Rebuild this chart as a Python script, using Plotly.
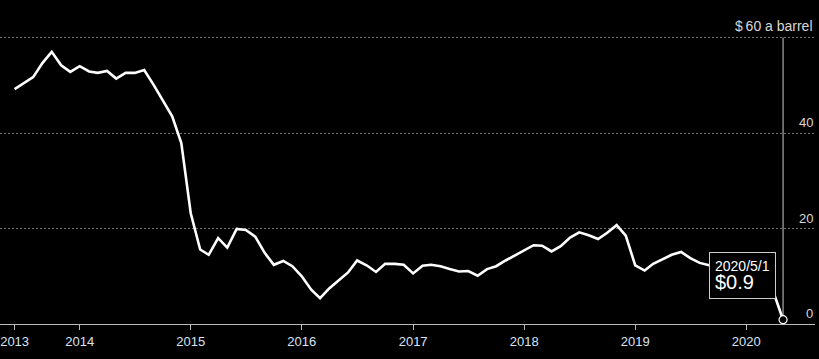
import pandas as pd
import plotly.graph_objects as go

months = pd.date_range("2013-06-01", "2020-05-01", freq="MS")
prices = [
    49.2, 50.5, 51.7, 54.7, 57.0, 54.2, 52.8,
    54.0, 52.9, 52.6, 53.0, 51.4, 52.6, 52.6, 53.2, 50.1, 47.0, 43.5, 37.9,
    23.2, 15.6, 14.5, 18.0, 16.0, 19.9, 19.7, 18.3, 14.9, 12.4, 13.2, 12.1,
    10.0, 7.2, 5.4, 7.5, 9.1, 10.8, 13.3, 12.3, 10.9, 12.6, 12.6, 12.4,
    10.6, 12.2, 12.4, 12.1, 11.5, 11.0, 11.1, 10.1, 11.5, 12.1, 13.3, 14.4,
    15.4, 16.5, 16.4, 15.2, 16.3, 18.1, 19.2, 18.6, 17.8, 19.1, 20.7, 18.5,
    12.3, 11.2, 12.6, 13.6, 14.5, 15.1, 13.8, 12.8, 12.3, 12.0, 11.6, 11.5,
    11.0, 10.0, 8.5, 6.4, 0.9,
]
x_tick_vals = ["2013-06-01", "2014-01-01", "2015-01-01", "2016-01-01",
               "2017-01-01", "2018-01-01", "2019-01-01", "2020-01-01"]
x_tick_text = ["2013", "2014", "2015", "2016", "2017", "2018", "2019", "2020"]
y_tick_vals = [0, 20, 40, 60]
y_tick_text = ["0", "20", "40", "$\u200960 a barrel"]
last_label_date = "2020/5/1"
last_label_value = "$0.9"

FONT = "Liberation Sans, Arial, sans-serif"

fig = go.Figure()
fig.add_trace(go.Scatter(
    x=months, y=prices, mode="lines",
    line=dict(color="white", width=2.6), hoverinfo="skip", showlegend=False,
))
fig.add_trace(go.Scatter(
    x=[months[-1]], y=[prices[-1]], mode="markers",
    marker=dict(size=8, color="black", line=dict(color="white", width=1.2)),
    hoverinfo="skip", showlegend=False,
))

fig.add_shape(type="line", xref="x", yref="y",
              x0=months[-1], x1=months[-1], y0=prices[-1] + 0.8, y1=60,
              line=dict(color="#cccccc", width=1), layer="below")

# right-side value labels, sitting just above each gridline
for v, t in zip(y_tick_vals, y_tick_text):
    fig.add_annotation(
        xref="paper", yref="y", x=1, y=v, xanchor="right", yanchor="bottom",
        showarrow=False, text=t, yshift=2 if v == 60 else 1,
        font=dict(family=FONT, size=14 if v == 60 else 13, color="#d8d8d8"),
    )

fig.add_annotation(
    xref="x", yref="y", x="2020-04-08", y=5.3,
    xanchor="right", yanchor="bottom", showarrow=False, align="left",
    text=f"{last_label_date}<br><span style='font-size:20px'>{last_label_value}</span>",
    font=dict(family=FONT, size=14, color="white"),
    bgcolor="black", bordercolor="#cccccc", borderwidth=1, borderpad=5,
)

fig.update_layout(
    width=819, height=359,
    paper_bgcolor="black", plot_bgcolor="black",
    margin=dict(l=0, r=4, t=28, b=35),
    font=dict(family=FONT, size=13, color="#d8d8d8"),
    xaxis=dict(
        type="date", range=["2013-04-14", "2020-08-14"], automargin=False,
        tickvals=x_tick_vals, ticktext=x_tick_text,
        showgrid=False, zeroline=False,
        showline=True, linecolor="#bbbbbb", linewidth=1,
        ticks="outside", ticklen=5, tickcolor="#bbbbbb",
        tickfont=dict(family=FONT, size=13, color="#d8e4f0"),
    ),
    yaxis=dict(
        range=[0, 62], side="right", automargin=False,
        tickvals=y_tick_vals, showticklabels=False, ticks="",
        showgrid=True, gridcolor="#707070", griddash="2px,2px", gridwidth=1,
        zeroline=False, showline=False,
    ),
)

fig.write_html("out.html", config={"displayModeBar": False},
               post_script="document.body.style.margin='0';document.body.style.background='black';")
